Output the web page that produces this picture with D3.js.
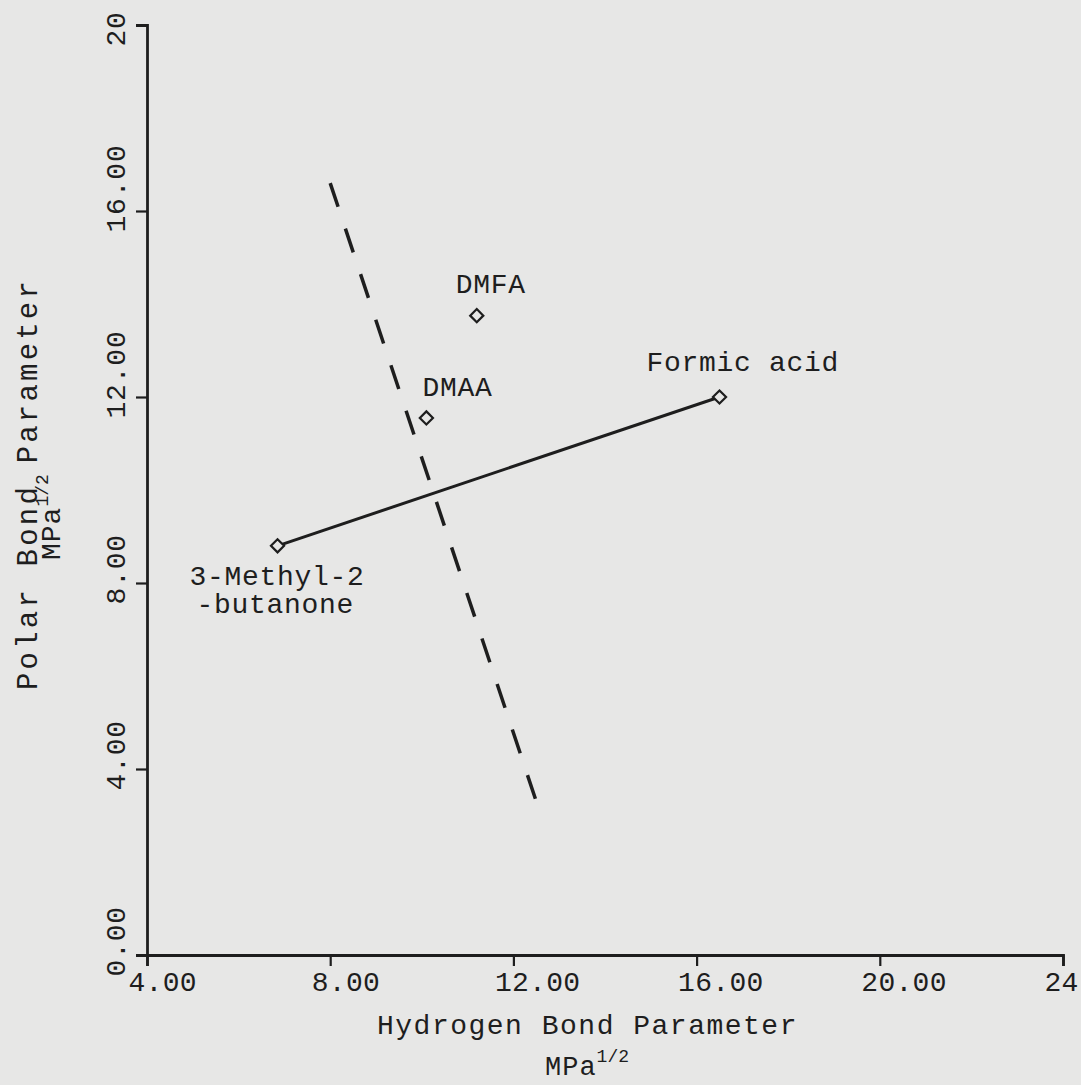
<!DOCTYPE html>
<html>
<head>
<meta charset="utf-8">
<script src="https://cdn.jsdelivr.net/npm/d3@7"></script>
<style>
  body { margin: 0; background: #e7e7e6; }
  svg { display: block; }
  text { fill: #1e1e1e; }
</style>
</head>
<body>
<svg></svg>
<script>
// solvent points (hydrogen bond, polar)
const solvents = ["3-Methyl-2-butanone", "DMAA", "DMFA", "Formic acid"];
const hBond = [6.85, 10.1, 11.2, 16.5];
const polar = [8.8, 11.55, 13.75, 12.0];
// the solid line joins these two
const joined = ["3-Methyl-2-butanone", "Formic acid"];
// dashed boundary line
const boundaryH = [8.0, 12.5];
const boundaryP = [16.6, 3.3];

const xTicks = [4, 8, 12, 16, 20, 24];
const xTickLabels = ["4.00", "8.00", "12.00", "16.00", "20.00", "24"];
const yTicks = [0, 4, 8, 12, 16, 20];
const yTickLabels = ["0.00", "4.00", "8.00", "12.00", "16.00", "20"];

const w = 1081, h = 1085;
const mono = "'Liberation Mono', 'Courier New', monospace";
const ink = "#1e1e1e";

const svg = d3.select("svg").attr("width", w).attr("height", h);

const x = d3.scaleLinear().domain([4, 24]).range([147, 1063]);
const y = d3.scaleLinear().domain([0, 20]).range([955, 25]);

const pts = solvents.map((s, i) => ({ name: s, h: hBond[i], p: polar[i] }));

// x axis
const gx = svg.append("g")
  .attr("transform", `translate(0,${y(0)})`)
  .call(d3.axisBottom(x).tickValues(xTicks)
    .tickFormat((d, i) => xTickLabels[i]).tickSizeOuter(0).tickSize(11));
gx.select(".domain").attr("stroke", ink).attr("stroke-width", 2.8);
gx.selectAll(".tick line").attr("stroke", ink).attr("stroke-width", 2.2);
gx.selectAll(".tick text")
  .attr("text-anchor", "start")
  .attr("x", -19).attr("y", 36).attr("dy", null)
  .attr("font-family", mono).attr("font-size", 28).attr("letter-spacing", 0.3)
  .style("fill", ink);

// y axis
const gy = svg.append("g")
  .attr("transform", `translate(${x(4)},0)`)
  .call(d3.axisLeft(y).tickValues(yTicks)
    .tickFormat((d, i) => yTickLabels[i]).tickSizeOuter(0).tickSize(11));
gy.select(".domain").attr("stroke", ink).attr("stroke-width", 2.8);
gy.selectAll(".tick line").attr("stroke", ink).attr("stroke-width", 2.2);
gy.selectAll(".tick text")
  .attr("text-anchor", "start")
  .attr("transform", "rotate(-90)")
  .attr("x", -21).attr("y", -22).attr("dy", null)
  .attr("font-family", mono).attr("font-size", 28).attr("letter-spacing", 0.8)
  .style("fill", ink);

// dashed boundary
svg.append("line")
  .attr("x1", x(boundaryH[0])).attr("y1", y(boundaryP[0]))
  .attr("x2", x(boundaryH[1])).attr("y2", y(boundaryP[1]))
  .attr("stroke", ink).attr("stroke-width", 3.5)
  .attr("stroke-dasharray", "25,23");

// solid line between two solvents
const jp = joined.map(n => pts.find(p => p.name === n));
svg.append("path")
  .datum(jp)
  .attr("d", d3.line().x(d => x(d.h)).y(d => y(d.p)))
  .attr("fill", "none").attr("stroke", ink).attr("stroke-width", 3);

// open diamonds
svg.selectAll(".pt").data(pts).enter()
  .append("path").attr("class", "pt")
  .attr("transform", d => `translate(${x(d.h)},${y(d.p)})`)
  .attr("d", d3.symbol(d3.symbolDiamond2, 110))
  .attr("fill", "#e7e7e6").attr("stroke", ink).attr("stroke-width", 2.2);

// point labels (offsets from the point)
const labelPos = {
  "DMFA": [[-21, -23, "DMFA"]],
  "DMAA": [[-4, -22, "DMAA"]],
  "Formic acid": [[-73, -26, "Formic acid"]],
  "3-Methyl-2-butanone": [[-88, 39, "3-Methyl-2"], [-81, 67, "-butanone"]]
};
pts.forEach(d => {
  labelPos[d.name].forEach(l => {
    svg.append("text")
      .attr("x", x(d.h) + l[0]).attr("y", y(d.p) + l[1])
      .attr("font-family", mono).attr("font-size", 28).attr("letter-spacing", 0.7)
      .text(l[2]);
  });
});

// axis titles
svg.append("text")
  .attr("x", 377).attr("y", 1034)
  .attr("font-family", mono).attr("font-size", 28).attr("letter-spacing", 1.5)
  .text("Hydrogen Bond Parameter");
const xu = svg.append("text")
  .attr("x", 545).attr("y", 1075)
  .attr("font-family", mono).attr("font-size", 27).attr("letter-spacing", 1);
xu.append("tspan").text("MPa");
xu.append("tspan").attr("dy", -13).attr("font-size", 18).attr("letter-spacing", 0).text("1/2");

const yt = svg.append("g").attr("transform", "rotate(-90)");
yt.append("text")
  .attr("x", -690).attr("y", 37)
  .attr("font-family", mono).attr("font-size", 29).attr("letter-spacing", 3.2)
  .text("Polar Bond Parameter");
const yu = yt.append("text")
  .attr("x", -560).attr("y", 60)
  .attr("font-family", mono).attr("font-size", 28).attr("letter-spacing", 1);
yu.append("tspan").text("MPa");
yu.append("tspan").attr("dy", -12).attr("font-size", 18).attr("letter-spacing", 0).text("1/2");
</script>
</body>
</html>
